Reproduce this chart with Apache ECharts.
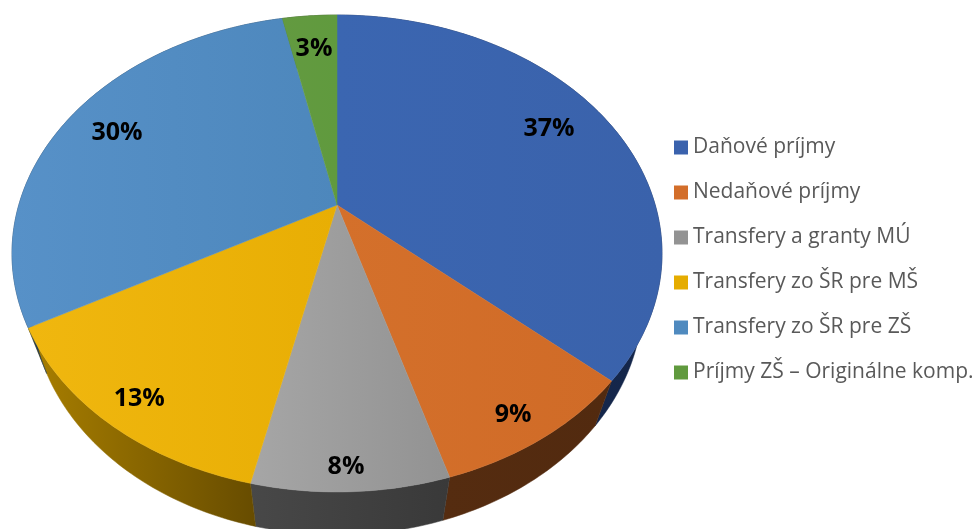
<!DOCTYPE html>
<html>
<head>
<meta charset="utf-8">
<script src="https://cdn.jsdelivr.net/npm/echarts@6/dist/echarts.min.js"></script>
<style>
  html, body { margin: 0; padding: 0; background: #fff; }
  #main { width: 975px; height: 529px; }
</style>
</head>
<body>
<div id="main"></div>
<script>
const names = [
  "Daňové príjmy",
  "Nedaňové príjmy",
  "Transfery a granty MÚ",
  "Transfery zo ŠR pre MŠ",
  "Transfery zo ŠR pre ZŠ",
  "Príjmy ZŠ – Originálne komp.",
];
const values = [36.6, 8.8, 8.1, 13.45, 29.75, 3.3];

const legendColors = ["#3a62ad", "#d36e2a", "#939393", "#e5ac00", "#4f8abf", "#609a3e"];
const topColors = [
  ["#3b66b1", "#3a62ab"],
  ["#d4702b", "#d06b27"],
  ["#a6a6a6", "#929292"],
  ["#f0b70f", "#e8ae04"],
  ["#5791c8", "#4d87bc"],
  ["#639a40", "#609a3e"],
];
const sideColors = [
  ["#16294f", "#14264a"],
  ["#552c10", "#522a0f"],
  ["#484848", "#393939"],
  ["#a97f00", "#674c00"],
  ["#1f3a55", "#1f3a55"],
  ["#2b451b", "#2b451b"],
];
// label anchors on the unit disk, before the perspective
const labelDisk = [
  [0.716, -0.367],
  [0.467, 0.768],
  [0.023, 0.924],
  [-0.531, 0.717],
  [-0.74, -0.346],
  [-0.084, -0.804],
];

// perspective of the tilted disk
const apex = [337, 205];
const K = 0.2033, A = 228.6, B = 318.2;
const project = (u, v) => {
  const w = 1 - K * v;
  return [apex[0] + (B * u) / w, apex[1] + (A * v) / w];
};
const toBottom = (p) => [
  337 + 0.94 * (p[0] - 337),
  300 + 0.983 * (p[1] - 253),
];

const total = values.reduce((a, b) => a + b, 0);
const starts = values.map((v, i) =>
  values.slice(0, i).reduce((a, b) => a + b, 0)
);

const arc = (from, to) => {
  const steps = Math.max(4, Math.ceil((to - from) * 4));
  const pts = [];
  for (let s = 0; s <= steps; s++) {
    const t = ((from + ((to - from) * s) / steps) / total) * 2 * Math.PI;
    pts.push(project(Math.sin(t), -Math.cos(t)));
  }
  return pts;
};

const gradient = (c) =>
  new echarts.graphic.LinearGradient(0, 0, 1, 0, [
    { offset: 0, color: c[0] },
    { offset: 1, color: c[1] },
  ]);

const renderSlice = (i) => (params, api) => {
  const rim = arc(starts[i], starts[i] + api.value(0));
  const lower = rim.map(toBottom).reverse();
  const pos = project(labelDisk[i][0], labelDisk[i][1]);
  const top = gradient(topColors[i]);
  const side = gradient(sideColors[i]);
  return {
    type: "group",
    children: [
      {
        type: "polygon",
        z2: 1,
        shape: { points: rim.concat(lower) },
        style: { fill: side, stroke: side, lineWidth: 0.5 },
      },
      {
        type: "polygon",
        z2: 5,
        shape: { points: [apex].concat(rim) },
        style: { fill: top, stroke: top, lineWidth: 0.5 },
      },
      {
        type: "text",
        z2: 10,
        x: pos[0],
        y: pos[1] + 2,
        style: {
          text: Math.round((api.value(0) / total) * 100) + "%",
          font: "bold 25px 'Open Sans'",
          fill: "#000",
          align: "center",
          verticalAlign: "middle",
        },
      },
    ],
  };
};

const myChart = echarts.init(document.getElementById("main"));
myChart.setOption({
  animation: false,
  legend: {
    orient: "vertical",
    left: 674,
    top: 135,
    padding: 0,
    icon: "rect",
    itemWidth: 14,
    itemHeight: 14,
    itemGap: 20,
    selectedMode: false,
    data: names,
    textStyle: {
      fontFamily: "Open Sans",
      fontSize: 21,
      color: "#595959",
      lineHeight: 25,
    },
  },
  series: names.map((name, i) => ({
    name: name,
    type: "custom",
    coordinateSystem: "none",
    silent: true,
    itemStyle: { color: legendColors[i] },
    data: [[values[i]]],
    renderItem: renderSlice(i),
  })),
});
</script>
</body>
</html>
